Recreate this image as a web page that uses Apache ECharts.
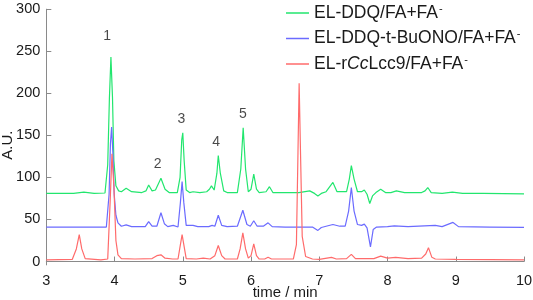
<!DOCTYPE html>
<html>
<head>
<meta charset="utf-8">
<script src="https://cdn.jsdelivr.net/npm/echarts@6/dist/echarts.min.js"></script>
<style>
  html, body { margin: 0; padding: 0; background: #fff; }
  #chart { width: 533px; height: 300px; }
</style>
</head>
<body>
<div id="chart"></div>
<script>
// trace 1: EL-DDQ/FA+FA- (offset ~80)
const greenT = [3.00, 3.40, 3.55, 3.70, 3.86, 3.90, 3.925, 3.947, 3.97, 3.99, 4.02, 4.06, 4.10, 4.17, 4.25, 4.40, 4.46, 4.50, 4.55, 4.60, 4.68, 4.74, 4.80, 4.92, 4.96, 4.985, 5.00, 5.02, 5.05, 5.10, 5.15, 5.25, 5.35, 5.39, 5.42, 5.46, 5.50, 5.52, 5.55, 5.60, 5.65, 5.80, 5.85, 5.885, 5.92, 5.96, 6.00, 6.04, 6.08, 6.12, 6.22, 6.27, 6.32, 6.50, 6.70, 6.86, 6.93, 6.98, 7.03, 7.10, 7.20, 7.26, 7.40, 7.44, 7.47, 7.51, 7.56, 7.62, 7.66, 7.70, 7.74, 7.78, 7.83, 7.90, 7.97, 8.05, 8.13, 8.25, 8.50, 8.55, 8.59, 8.64, 8.80, 8.95, 9.10, 9.40, 10.00];
const greenV = [81, 81, 82.5, 81, 81.5, 115, 195, 243, 195, 120, 90, 84, 83, 87, 83, 82, 84, 91, 84, 85, 99, 86, 82, 82, 100, 145, 153, 120, 85, 82, 83, 82, 83, 86, 90, 85, 105, 126, 105, 84, 82, 82, 110, 159, 110, 83, 86, 104, 86, 82, 83, 89, 82, 82, 82, 84, 81, 78, 81, 83, 94, 83, 83, 98, 114, 98, 83, 83, 85, 80, 69, 78, 82, 86, 82, 82, 84, 82, 82, 84, 88, 82, 81, 82.5, 81, 81, 80.5];

// trace 2: EL-DDQ-t-BuONO/FA+FA- (offset ~40)
const blueT = [3.00, 3.50, 3.88, 3.92, 3.94, 3.957, 3.975, 3.995, 4.02, 4.05, 4.10, 4.17, 4.25, 4.45, 4.50, 4.55, 4.62, 4.68, 4.73, 4.78, 4.86, 4.93, 4.965, 4.99, 5.015, 5.05, 5.15, 5.22, 5.38, 5.43, 5.47, 5.52, 5.57, 5.65, 5.80, 5.88, 5.94, 5.99, 6.04, 6.09, 6.18, 6.25, 6.31, 6.50, 6.90, 6.98, 7.03, 7.10, 7.20, 7.30, 7.38, 7.43, 7.47, 7.51, 7.56, 7.62, 7.66, 7.70, 7.75, 7.79, 7.84, 8.00, 8.10, 8.30, 8.70, 8.80, 8.96, 9.04, 9.50, 10.00];
const blueV = [41, 41, 41, 80, 140, 160, 130, 80, 55, 46, 42, 43.5, 41.5, 41.5, 47.5, 42, 42, 58, 45, 41.5, 43, 41, 70, 95, 70, 43, 43, 41.5, 41.5, 43, 42, 55, 43, 41.5, 42, 61, 44, 42, 48.5, 42, 42, 46, 41.5, 41, 41, 37, 40.5, 42, 44, 42, 42, 60, 88, 60, 44, 43, 44.5, 40, 17.5, 38, 41, 41.5, 42.5, 41.5, 43, 41.5, 46.5, 41.5, 41, 40.5];

// trace 3: EL-rCcLcc9/FA+FA- (no offset)
const redT = [3.00, 3.38, 3.44, 3.483, 3.52, 3.57, 3.80, 3.90, 3.935, 3.962, 3.99, 4.02, 4.05, 4.10, 4.30, 4.55, 4.62, 4.68, 4.74, 4.85, 4.93, 4.965, 4.99, 5.015, 5.05, 5.20, 5.30, 5.40, 5.47, 5.52, 5.57, 5.62, 5.80, 5.84, 5.88, 5.92, 5.96, 6.00, 6.04, 6.08, 6.12, 6.20, 6.25, 6.30, 6.62, 6.665, 6.688, 6.705, 6.725, 6.75, 6.80, 6.90, 7.00, 7.18, 7.25, 7.40, 7.47, 7.53, 7.80, 7.90, 8.00, 8.12, 8.30, 8.50, 8.56, 8.60, 8.65, 8.70, 9.00, 10.00];
const redV = [2, 2.5, 15, 32, 15, 3.5, 2, 3, 70, 128, 90, 25, 8, 3.5, 3, 3.5, 7, 8, 4, 3, 3, 20, 32, 20, 3.5, 3, 4, 3, 7, 19, 7, 3, 3, 15, 34, 15, 4, 7, 21, 7, 3, 3, 5, 3, 3, 20, 130, 212, 130, 30, 6, 3, 2.5, 5, 3, 3.5, 8.5, 3.5, 3.5, 6.5, 4, 5, 3.5, 4, 9, 16.5, 5, 3, 2.5, 2];

// peak numbers
const peakT = [3.89, 4.63, 4.98, 5.49, 5.88];
const peakV = [268, 116, 169, 142.5, 175];
const peakText = ["1", "2", "3", "4", "5"];

const yTicks = [0, 50, 100, 150, 200, 250, 300];

const seriesNames = ["EL-DDQ/FA+FA-", "EL-DDQ-t-BuONO/FA+FA-", "EL-rCcLcc9/FA+FA-"];
const seriesColors = ["#22e66e", "#6b6bff", "#ff6b6b"];

const font = "'Liberation Sans', Arial, sans-serif";
const zip = (t, v) => t.map((x, i) => [x, v[i]]);

const chart = echarts.init(document.getElementById("chart"), null, { renderer: "canvas" });

const lineSeries = (name, color, t, v) => ({
    name,
    type: "line",
    data: zip(t, v),
    symbol: "none",
    lineStyle: { color, width: 1.2 },
    itemStyle: { color },
    animation: false,
});

const legendLabels = {
    "EL-DDQ/FA+FA-": "EL-DDQ/FA+FA{s|-}",
    "EL-DDQ-t-BuONO/FA+FA-": "EL-DDQ-t-BuONO/FA+FA{s|-}",
    "EL-rCcLcc9/FA+FA-": "EL-r{i|Cc}Lcc9/FA+FA{s|-}",
};

chart.setOption({
    animation: false,
    textStyle: { fontFamily: font },
    grid: { left: 46.3, right: 9, top: 9.2, bottom: 35.1, containLabel: false, outerBoundsMode: "none" },
    legend: {
        orient: "vertical",
        left: 286,
        top: 3,
        padding: 0,
        itemWidth: 23,
        itemHeight: 1.5,
        itemGap: 6.5,
        icon: "rect",
        data: seriesNames,
        formatter: (name) => legendLabels[name],
        textStyle: {
            fontFamily: font,
            fontSize: 17.5,
            color: "#1a1a1a",
            lineHeight: 18,
            rich: {
                s: { fontSize: 11, fontFamily: font, color: "#1a1a1a", padding: [0, 0, 9, 1] },
                i: { fontSize: 17.5, fontFamily: font, fontStyle: "italic", color: "#1a1a1a" },
            },
        },
    },
    xAxis: {
        type: "value",
        min: 3,
        max: 10,
        interval: 1,
        name: "time / min",
        nameLocation: "middle",
        nameGap: 20,
        nameMoveOverlap: false,
        nameTextStyle: { fontSize: 15, color: "#1a1a1a", fontFamily: font },
        axisLine: { lineStyle: { color: "#8a8a8a", width: 1 } },
        axisTick: { inside: true, length: 5, lineStyle: { color: "#8a8a8a" } },
        axisLabel: { fontSize: 14.5, color: "#1a1a1a", margin: 9, fontFamily: font },
        splitLine: { show: false },
    },
    yAxis: {
        type: "value",
        min: -4,
        max: 300,
        name: "A.U.",
        nameLocation: "middle",
        nameGap: 31,
        nameRotate: 90,
        nameMoveOverlap: false,
        nameTextStyle: { fontSize: 15, color: "#1a1a1a", fontFamily: font, padding: [0, 16, 0, 0] },
        axisLine: { show: true, lineStyle: { color: "#8a8a8a", width: 1 } },
        axisTick: { show: true, inside: true, length: 5, customValues: yTicks, lineStyle: { color: "#8a8a8a" } },
        axisLabel: { fontSize: 14.5, color: "#1a1a1a", margin: 6, customValues: yTicks, fontFamily: font },
        splitLine: { show: false },
    },
    series: [
        lineSeries(seriesNames[0], seriesColors[0], greenT, greenV),
        lineSeries(seriesNames[1], seriesColors[1], blueT, blueV),
        lineSeries(seriesNames[2], seriesColors[2], redT, redV),
        {
            name: "peaks",
            type: "scatter",
            symbolSize: 0,
            silent: true,
            data: peakT.map((t, i) => ({ value: [t, peakV[i]], name: peakText[i] })),
            label: {
                show: true,
                position: "inside",
                formatter: (p) => p.name,
                fontSize: 14,
                color: "#1a1a1a",
                fontFamily: font,
            },
            animation: false,
        },
    ],
});
</script>
</body>
</html>
